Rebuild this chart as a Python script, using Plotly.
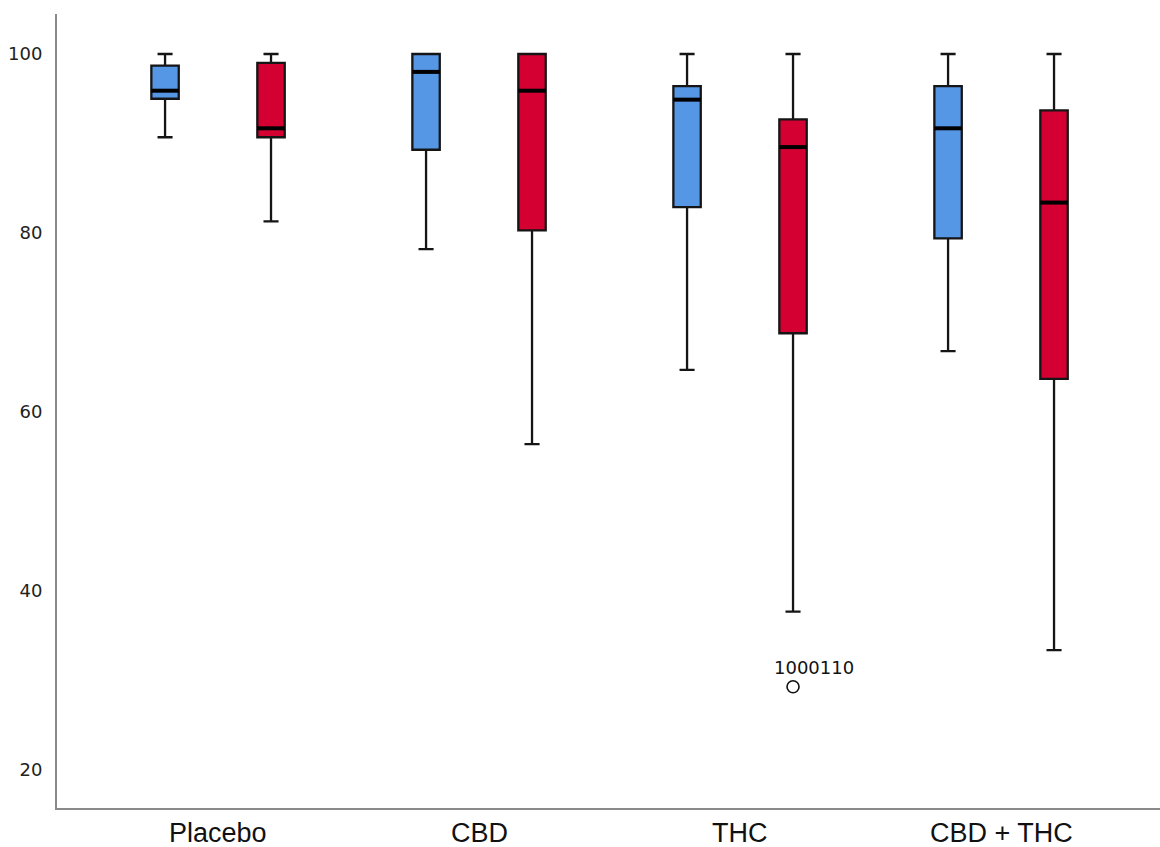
import plotly.graph_objects as go

categories = ["Placebo", "CBD", "THC", "CBD + THC"]

# Series A (blue)
a_lower = [90.7, 78.2, 64.7, 66.8]
a_q1 = [95.0, 89.3, 82.9, 79.4]
a_median = [95.9, 98.0, 94.9, 91.7]
a_q3 = [98.7, 100.0, 96.4, 96.4]
a_upper = [100.0, 100.0, 100.0, 100.0]

# Series B (red)
b_lower = [81.3, 56.4, 37.7, 33.4]
b_q1 = [90.7, 80.3, 68.8, 63.7]
b_median = [91.7, 95.9, 89.6, 83.4]
b_q3 = [99.0, 100.0, 92.7, 93.7]
b_upper = [100.0, 100.0, 100.0, 100.0]

# Outlier (category index of red series, value, label)
outlier_cat = [2]
outlier_val = [29.3]
outlier_label = ["1000110"]

y_ticks = [20, 40, 60, 80, 100]

OFFSET = 0.203
BOXW = 0.105
BLUE = "#5596E5"
RED = "#D50032"

fig = go.Figure()

def add_series(sign, lower, q1, med, q3, upper, color):
    xs = [i + sign * OFFSET for i in range(len(categories))]
    fig.add_trace(go.Box(
        x=xs, q1=q1, median=med, q3=q3, lowerfence=lower, upperfence=upper,
        width=BOXW, whiskerwidth=0.55, boxpoints=False,
        fillcolor=color, line=dict(color="#151515", width=2.3),
        showlegend=False, hoverinfo="skip",
    ))
    mx, my = [], []
    for x, m in zip(xs, med):
        mx += [x - BOXW / 2, x + BOXW / 2, None]
        my += [m, m, None]
    fig.add_trace(go.Scatter(x=mx, y=my, mode="lines",
                             line=dict(color="#000000", width=4),
                             showlegend=False, hoverinfo="skip"))

add_series(-1, a_lower, a_q1, a_median, a_q3, a_upper, BLUE)
add_series(1, b_lower, b_q1, b_median, b_q3, b_upper, RED)

ox = [c + OFFSET for c in outlier_cat]
fig.add_trace(go.Scatter(
    x=ox, y=outlier_val, mode="markers",
    marker=dict(symbol="circle-open", size=12, color="#111111", line=dict(width=1.6)),
    showlegend=False, hoverinfo="skip",
))
for x, v, t in zip(ox, outlier_val, outlier_label):
    fig.add_annotation(x=x, y=v, text=t, showarrow=False,
                       xanchor="center", yanchor="bottom",
                       xshift=21, yshift=7,
                       font=dict(family="DejaVu Sans", size=18, color="#111111"))

# Category labels below the axis
for i, c in enumerate(categories):
    fig.add_annotation(x=i, xref="x", y=0, yref="paper", text=c, showarrow=False,
                       xanchor="center", yanchor="middle", yshift=-25,
                       font=dict(family="Liberation Sans", size=27, color="#111111"))

fig.update_layout(
    width=1160, height=847,
    margin=dict(l=57, r=0, t=14, b=39),
    paper_bgcolor="white", plot_bgcolor="white",
    xaxis=dict(
        range=[-0.617, 3.609], tickmode="array",
        tickvals=list(range(len(categories))), showticklabels=False,
        showgrid=False, zeroline=False, showline=True,
        linecolor="#8a8a8a", linewidth=2, ticks="", automargin=False,
    ),
    yaxis=dict(
        range=[15.75, 104.47], tickmode="array", tickvals=y_ticks,
        showgrid=False, zeroline=False, showline=True,
        linecolor="#8a8a8a", linewidth=2, ticks="",
        tickfont=dict(family="DejaVu Sans", size=18, color="#222222"),
        ticklabelstandoff=9, automargin=False,
    ),
)

fig.write_html("out.html")
